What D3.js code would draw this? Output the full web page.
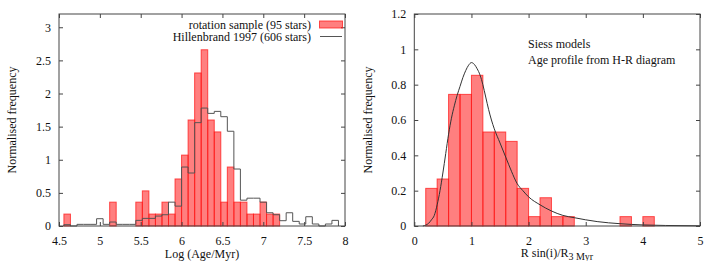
<!DOCTYPE html>
<html>
<head>
<meta charset="utf-8">
<script src="https://cdn.jsdelivr.net/npm/d3@7"></script>
<style>
  html, body { margin: 0; padding: 0; background: #fff; }
  svg text { font-family: "Liberation Serif", "DejaVu Serif", serif; fill: #111; }
</style>
</head>
<body>
<svg id="chart" width="720" height="261"></svg>
<script>
// left panel: log age histograms, bins of 0.08 dex
const ageBinStart = [4.56, 4.64, 4.72, 4.80, 4.88, 4.96, 5.04, 5.12, 5.20, 5.28, 5.36,
  5.44, 5.52, 5.60, 5.68, 5.76, 5.84, 5.92, 6.00, 6.08, 6.16, 6.24, 6.32, 6.40, 6.48,
  6.56, 6.64, 6.72, 6.80, 6.88, 6.96, 7.04, 7.12, 7.20, 7.28, 7.36, 7.44, 7.52, 7.60,
  7.68, 7.76, 7.84];
const ageBinEnd = 7.92;
const rotationFreq = [0.18, 0, 0, 0, 0, 0, 0, 0.36, 0, 0, 0,
  0.36, 0.53, 0.18, 0.18, 0.36, 0.18, 0.71, 1.07, 1.60, 2.31, 2.66, 1.60, 1.42, 0.36,
  0.89, 0.36, 0.36, 0.18, 0.18, 0.36, 0.18, 0.18, 0, 0, 0, 0, 0, 0,
  0, 0, 0];
const hillenbrandFreq = [0.02, 0, 0.025, 0.025, 0.025, 0.11, 0.025, 0.06, 0.025, 0.025, 0.025,
  0.085, 0.115, 0.115, 0.15, 0.17, 0.36, 0.30, 0.89, 0.80, 1.56, 1.78, 1.70, 1.73, 1.65,
  1.43, 0.86, 0.39, 0.42, 0.42, 0.36, 0.20, 0.17, 0.08, 0.20, 0.07, 0.03, 0.14, 0.03,
  0, 0.03, 0.085];
const ageTicks = [4.5, 5, 5.5, 6, 6.5, 7, 7.5, 8];
const ageFreqTicks = [0, 0.5, 1, 1.5, 2, 2.5, 3];

// right panel: R sin(i) / R_3Myr, bins of 0.2
const rsinBinStart = [0.2, 0.4, 0.6, 0.8, 1.0, 1.2, 1.4, 1.6, 1.8, 2.0, 2.2, 2.4, 2.6, 3.6, 4.0];
const rsinBinWidth = 0.2;
const rsinFreq = [0.213, 0.266, 0.745, 0.745, 0.853, 0.532, 0.532, 0.479, 0.213,
  0.053, 0.160, 0.053, 0.053, 0.053, 0.053];
const modelX = [0.15, 0.2, 0.25, 0.3, 0.35, 0.4, 0.45, 0.5, 0.55, 0.6, 0.65, 0.7, 0.75,
  0.8, 0.85, 0.9, 0.95, 1.0, 1.05, 1.1, 1.15, 1.2, 1.25, 1.3, 1.35, 1.4, 1.5, 1.6,
  1.7, 1.8, 1.9, 2.0, 2.2, 2.4, 2.6, 2.8, 3.0, 3.2, 3.4, 3.6, 3.8, 4.0, 4.4, 5.0];
const modelY = [0, 0.005, 0.015, 0.035, 0.06, 0.12, 0.2, 0.3, 0.41, 0.52, 0.61, 0.68, 0.74,
  0.79, 0.84, 0.88, 0.91, 0.925, 0.915, 0.89, 0.855, 0.8, 0.73, 0.66, 0.6, 0.55, 0.47, 0.39,
  0.31, 0.24, 0.2, 0.165, 0.12, 0.085, 0.06, 0.047, 0.035, 0.025, 0.018, 0.013, 0.009, 0.006,
  0.003, 0.001];
const rsinTicks = [0, 1, 2, 3, 4, 5];
const rsinFreqTicks = [0, 0.2, 0.4, 0.6, 0.8, 1, 1.2];

const svg = d3.select('#chart');
const plotTop = 14, plotBottom = 226;
const barFill = '#ff0000', barStroke = '#ff1a1a';

function frame(g, x, y, xTicks, yTicks) {
  const [x0, x1] = x.range();
  g.append('g').attr('transform', `translate(0,${plotBottom})`)
    .call(d3.axisBottom(x).tickValues(xTicks).tickSize(-4).tickPadding(10).tickFormat(d3.format('')))
    .call(a => a.selectAll('text').attr('font-size', 12));
  g.append('g').attr('transform', `translate(0,${plotTop})`)
    .call(d3.axisTop(x).tickValues(xTicks).tickSize(-4).tickFormat(''));
  g.append('g').attr('transform', `translate(${x0},0)`)
    .call(d3.axisLeft(y).tickValues(yTicks).tickSize(-4).tickPadding(8).tickFormat(d3.format('')))
    .call(a => a.selectAll('text').attr('font-size', 12));
  g.append('g').attr('transform', `translate(${x1},0)`)
    .call(d3.axisRight(y).tickValues(yTicks).tickSize(-4).tickFormat(''));
  g.selectAll('.domain').remove();
  g.selectAll('.tick line').attr('stroke', '#444');
  g.append('rect')
    .attr('x', x0).attr('y', plotTop)
    .attr('width', x1 - x0).attr('height', plotBottom - plotTop)
    .attr('fill', 'none').attr('stroke', '#444').attr('stroke-width', 1);
}

// ---- left panel
const xAge = d3.scaleLinear().domain([4.5, 8]).range([59, 345]);
const yAge = d3.scaleLinear().domain([0, 3.2]).range([plotBottom, plotTop]);
const left = svg.append('g');

const ageBins = ageBinStart.map((s, i) => ({ x0: s, x1: ageBinStart[i + 1] || ageBinEnd, rot: rotationFreq[i], hil: hillenbrandFreq[i] }));

left.append('g').selectAll('rect')
  .data(ageBins.filter(d => d.rot > 0))
  .join('rect')
  .attr('x', d => xAge(d.x0))
  .attr('y', d => yAge(d.rot))
  .attr('width', d => xAge(d.x1) - xAge(d.x0))
  .attr('height', d => yAge(0) - yAge(d.rot))
  .attr('fill', barFill).attr('fill-opacity', 0.5)
  .attr('stroke', barStroke).attr('stroke-opacity', 0.75);

const stepPts = [[ageBinStart[0], 0]].concat(ageBins.map(d => [d.x0, d.hil]), [[ageBinEnd, 0]]);
left.append('path')
  .datum(stepPts)
  .attr('fill', 'none').attr('stroke', '#555').attr('stroke-width', 1)
  .attr('d', d3.line().curve(d3.curveStepAfter).x(d => xAge(d[0])).y(d => yAge(d[1])));

frame(left, xAge, yAge, ageTicks, ageFreqTicks);

left.append('text').attr('transform', `translate(16,${(plotTop + plotBottom) / 2}) rotate(-90)`)
  .attr('text-anchor', 'middle').attr('font-size', 12).text('Normalised frequency');
left.append('text').attr('x', 202).attr('y', 258)
  .attr('text-anchor', 'middle').attr('font-size', 12).text('Log (Age/Myr)');

// legend
const legend = left.append('g');
legend.append('text').attr('x', 311).attr('y', 28.5).attr('text-anchor', 'end')
  .attr('font-size', 12).text('rotation sample (95 stars)');
legend.append('rect').attr('x', 319.5).attr('y', 21).attr('width', 23).attr('height', 7)
  .attr('fill', barFill).attr('fill-opacity', 0.5).attr('stroke', barStroke).attr('stroke-opacity', 0.75);
legend.append('text').attr('x', 311).attr('y', 41).attr('text-anchor', 'end')
  .attr('font-size', 12).text('Hillenbrand 1997 (606 stars)');
legend.append('line').attr('x1', 320).attr('x2', 342).attr('y1', 36.5).attr('y2', 36.5)
  .attr('stroke', '#555').attr('stroke-width', 1);

// ---- right panel
const xR = d3.scaleLinear().domain([0, 5]).range([414.3, 700]);
const yR = d3.scaleLinear().domain([0, 1.2]).range([plotBottom, plotTop]);
const right = svg.append('g');

right.append('g').selectAll('rect')
  .data(rsinBinStart.map((s, i) => ({ x0: s, x1: s + rsinBinWidth, v: rsinFreq[i] })))
  .join('rect')
  .attr('x', d => xR(d.x0))
  .attr('y', d => yR(d.v))
  .attr('width', d => xR(d.x1) - xR(d.x0))
  .attr('height', d => yR(0) - yR(d.v))
  .attr('fill', barFill).attr('fill-opacity', 0.5)
  .attr('stroke', barStroke).attr('stroke-opacity', 0.75);

right.append('path')
  .datum(modelX.map((x, i) => [x, modelY[i]]))
  .attr('fill', 'none').attr('stroke', '#333').attr('stroke-width', 1)
  .attr('d', d3.line().curve(d3.curveMonotoneX).x(d => xR(d[0])).y(d => yR(d[1])));

frame(right, xR, yR, rsinTicks, rsinFreqTicks);

right.append('text').attr('transform', `translate(372,${(plotTop + plotBottom) / 2}) rotate(-90)`)
  .attr('text-anchor', 'middle').attr('font-size', 12).text('Normalised frequency');
const xt = right.append('text').attr('x', 557).attr('y', 257)
  .attr('text-anchor', 'middle').attr('font-size', 12);
xt.append('tspan').text('R sin(i)/R');
xt.append('tspan').attr('dy', 3).attr('font-size', 10).text('3 Myr');

right.append('text').attr('x', 528).attr('y', 48).attr('font-size', 12).text('Siess models');
right.append('text').attr('x', 528).attr('y', 64).attr('font-size', 12).text('Age profile from H-R diagram');
</script>
</body>
</html>
